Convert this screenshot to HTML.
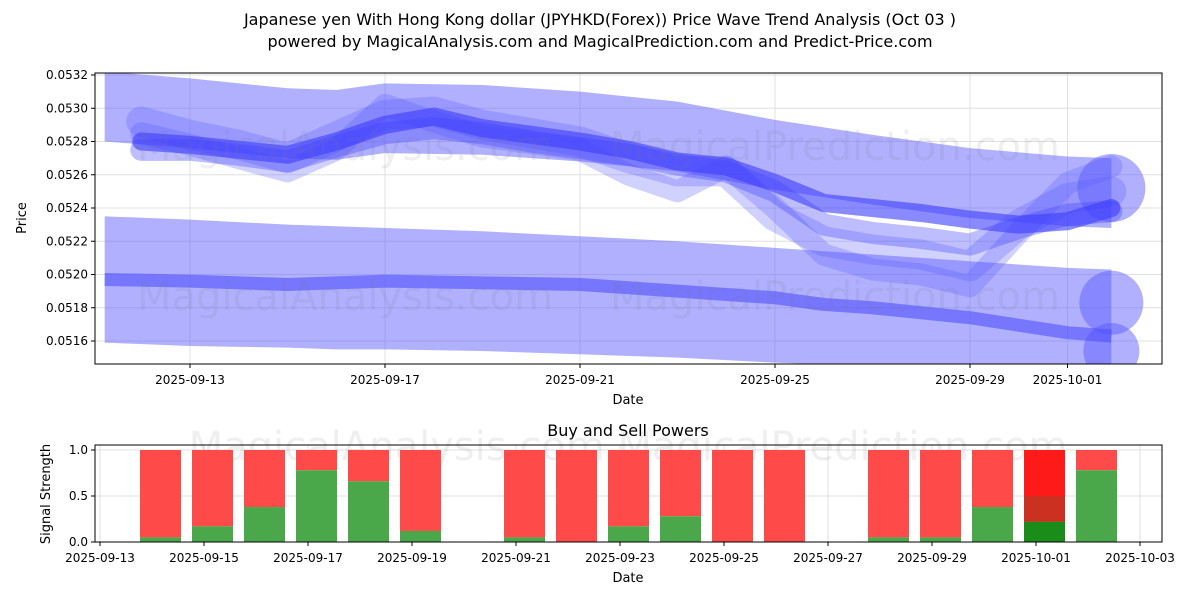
<!DOCTYPE html>
<html><head><meta charset="utf-8"><style>
body{margin:0;background:#fff;font-family:"Liberation Sans","DejaVu Sans",sans-serif}
svg text{font-family:"DejaVu Sans","Liberation Sans",sans-serif;fill:#000}
</style></head><body>
<svg id="c" width="1200" height="600" xmlns="http://www.w3.org/2000/svg">
<text x="600" y="25" font-size="16" text-anchor="middle">Japanese yen With Hong Kong dollar (JPYHKD(Forex)) Price Wave Trend Analysis (Oct 03 )</text>
<text x="600" y="47" font-size="16" text-anchor="middle">powered by MagicalAnalysis.com and MagicalPrediction.com and Predict-Price.com</text>
<g id="topg"></g><g id="botg"></g>
</svg>
<script>
const NS="http://www.w3.org/2000/svg";
// ---- top chart data ----
const priceTicks=[0.0516,0.0518,0.0520,0.0522,0.0524,0.0526,0.0528,0.0530,0.0532];
const dateTicks=["2025-09-13","2025-09-17","2025-09-21","2025-09-25","2025-09-29","2025-10-01"];
const dateTickDays=[0,4,8,12,16,18];
const bandDays=[-1.75,0,2,3,4,6,8,10,12,14,16,18,18.9];
const upperTop=[0.05322,0.05318,0.05312,0.05311,0.05315,0.05314,0.05310,0.05304,0.05293,0.05284,0.05276,0.05271,0.05270];
const upperBot=[0.05280,0.05276,0.05270,0.05269,0.05273,0.05272,0.05268,0.05262,0.05251,0.05242,0.05234,0.05229,0.05228];
const lowerTop=[0.05235,0.05233,0.05230,0.05229,0.05228,0.05226,0.05223,0.05220,0.05216,0.05212,0.05208,0.05204,0.05203];
const lowerBot=[0.05159,0.05157,0.05156,0.05155,0.05155,0.05154,0.05152,0.05150,0.05147,0.05145,0.05143,0.05141,0.05140];
const waveDays=[-1,0,1,2,3,4,5,6,7,8,9,10,11,12,13,14,15,16,17,18,18.9];
const waveA=[0.05280,0.05278,0.05275,0.05272,0.05280,0.05290,0.05295,0.05288,0.05284,0.05280,0.05275,0.05268,0.05265,0.05255,0.05243,0.05240,0.05237,0.05233,0.05230,0.05232,0.05240];
const waveB=[0.05285,0.05278,0.05270,0.05262,0.05275,0.05302,0.05292,0.05283,0.05279,0.05275,0.05260,0.05250,0.05265,0.05240,0.05212,0.05203,0.05200,0.05193,0.05225,0.05255,0.05265];
const waveC=[0.05292,0.05284,0.05278,0.05270,0.05283,0.05296,0.05298,0.05290,0.05285,0.05280,0.05270,0.05262,0.05262,0.05235,0.05220,0.05215,0.05212,0.05205,0.05230,0.05246,0.05250];
const waveD=[0.05275,0.05275,0.05272,0.05268,0.05277,0.05285,0.05288,0.05285,0.05280,0.05276,0.05272,0.05266,0.05262,0.05250,0.05230,0.05225,0.05222,0.05218,0.05228,0.05236,0.05238];
const darkDays=[-1.75,0,2,4,6,8,10,12,13,14,16,18,18.9];
const darkLine=[0.05197,0.05196,0.05194,0.05196,0.05195,0.05194,0.05190,0.05186,0.05182,0.05180,0.05174,0.05165,0.05163];
// ---- bottom chart data ----
const barDays=[1,2,3,4,5,6,8,9,10,11,12,13,15,16,17,18,19];
const buyVals=[0.05,0.17,0.38,0.78,0.66,0.12,0.05,0,0.17,0.28,0,0,0.05,0.05,0.38,0.22,0.78];
const sigTicks=[0,0.5,1.0];
const botDateTicks=["2025-09-13","2025-09-15","2025-09-17","2025-09-19","2025-09-21","2025-09-23","2025-09-25","2025-09-27","2025-09-29","2025-10-01","2025-10-03"];

const X0=95,X1=1162,TY0=73,TY1=364;
const xT=d=>190+d*48.75;
const yT=v=>341-(v-0.0516)*166250;
const xB=d=>100+d*52;
const yB=v=>542-v*92;
function el(t,a,p){const e=document.createElementNS(NS,t);for(const k in a)e.setAttribute(k,a[k]);p.appendChild(e);return e;}
const topG=document.getElementById('topg'),botG=document.getElementById('botg');

el('rect',{x:X0,y:TY0,width:X1-X0,height:TY1-TY0,fill:'#fff'},topG);
priceTicks.forEach(v=>{
 const g=el('line',{x1:X0,x2:X1,y1:yT(v),y2:yT(v),stroke:'#e0e0e0'},topG);
 
 
 el('line',{x1:X0-4,x2:X0,y1:yT(v),y2:yT(v),stroke:'#000'},topG);
 const t=el('text',{x:X0-7,y:yT(v)+4,'font-size':12,'text-anchor':'end'},topG);t.textContent=v.toFixed(4);
 
 
});
dateTickDays.forEach((d,i)=>{
 el('line',{x1:xT(d),x2:xT(d),y1:TY0,y2:TY1,stroke:'#e0e0e0'},topG);
 el('line',{x1:xT(d),x2:xT(d),y1:TY1,y2:TY1+4,stroke:'#000'},topG);
 const t=el('text',{x:xT(d),y:TY1+20,'font-size':12,'text-anchor':'middle'},topG);t.textContent=dateTicks[i];
 
 
});
const clip=el('clipPath',{id:'cp'},topG);el('rect',{x:X0,y:TY0,width:X1-X0,height:TY1-TY0},clip);
const pg=el('g',{'clip-path':'url(#cp)'},topG);
function band(tp,bt,name){
 let pts=bandDays.map((d,i)=>xT(d)+','+yT(tp[i])).join(' ')+' '+bandDays.map((d,i)=>xT(d)+','+yT(bt[i])).reverse().join(' ');
 const p=el('polygon',{points:pts,fill:'rgba(90,90,255,0.48)'},pg);
 
 
}
band(upperTop,upperBot,'upper-wave-band');
el('circle',{cx:xT(18.9),cy:yT(0.05252),r:34,fill:'rgba(90,90,255,0.48)'},pg);
band(lowerTop,lowerBot,'lower-wave-band');
el('circle',{cx:xT(18.9),cy:yT(0.05183),r:32,fill:'rgba(90,90,255,0.48)'},pg);
el('circle',{cx:xT(18.9),cy:yT(0.05154),r:28,fill:'rgba(90,90,255,0.48)'},pg);
function line(days,vals,w,col,name,cap){
 const p=el('polyline',{points:days.map((d,i)=>xT(d)+','+yT(vals[i])).join(' '),fill:'none',stroke:col,'stroke-width':w,'stroke-linejoin':'round','stroke-linecap':cap||'round'},pg);
 
 
}
line(waveDays,waveC,30,'rgba(90,90,255,0.28)','wave-line-c');
line(waveDays,waveB,22,'rgba(90,90,255,0.28)','wave-line-b');
line(waveDays,waveD,22,'rgba(70,70,255,0.35)','wave-line-d');
line(waveDays,waveA,18,'rgba(60,60,255,0.6)','wave-line-main');
line(darkDays,darkLine,13,'rgba(80,80,255,0.6)','lower-trend-line','butt');
[['MagicalAnalysis.com',345,160],['MagicalPrediction.com',835,160],['MagicalAnalysis.com',345,310],['MagicalPrediction.com',835,310]].forEach(w=>{
 const t=el('text',{x:w[1],y:w[2],'font-size':40,'text-anchor':'middle',style:'fill:rgba(120,120,120,0.12)'},pg);t.textContent=w[0];
});
el('rect',{x:X0,y:TY0,width:X1-X0,height:TY1-TY0,fill:'none',stroke:'#000'},topG);
let t=el('text',{x:628,y:404,'font-size':13,'text-anchor':'middle'},topG);t.textContent='Date';


t=el('text',{x:26,y:218,'font-size':13,'text-anchor':'middle',transform:'rotate(-90 26 218)'},topG);t.textContent='Price';



const BY0=445,BY1=542;
t=el('text',{x:628,y:436,'font-size':16,'text-anchor':'middle'},botG);t.textContent='Buy and Sell Powers';


sigTicks.forEach(v=>{
 el('line',{x1:X0,x2:X1,y1:yB(v),y2:yB(v),stroke:'#e0e0e0'},botG);
 el('line',{x1:X0-4,x2:X0,y1:yB(v),y2:yB(v),stroke:'#000'},botG);
 const s=el('text',{x:X0-7,y:yB(v)+4,'font-size':12,'text-anchor':'end'},botG);s.textContent=v.toFixed(1);
 
 
});
botDateTicks.forEach((lab,i)=>{
 const d=i*2;
 el('line',{x1:xB(d),x2:xB(d),y1:BY0,y2:BY1,stroke:'#e0e0e0'},botG);
 el('line',{x1:xB(d),x2:xB(d),y1:BY1,y2:BY1+4,stroke:'#000'},botG);
 const s=el('text',{x:xB(d),y:BY1+20,'font-size':12,'text-anchor':'middle'},botG);s.textContent=lab;
 
 
});
const wt=el('text',{x:628,y:460,'font-size':40,'text-anchor':'middle',style:'fill:rgba(120,120,120,0.12)'},botG);wt.textContent='MagicalAnalysis.com          MagicalPrediction.com';
barDays.forEach((d,i)=>{
 const b=buyVals[i],x=xB(d)-21+9,w=41;
 const special=(i===barDays.length-2);
 const r=el('rect',{x:x,y:yB(1),width:w,height:yB(b)-yB(1),fill:special?'#ff1a1a':'#ff4a4a'},botG);
 
 
 if(special){const r2=el('rect',{x:x,y:yB(0.5),width:w,height:yB(b)-yB(0.5),fill:'#cc3020'},botG);
  
  }
 const g=el('rect',{x:x,y:yB(b),width:w,height:yB(0)-yB(b),fill:special?'#1a8c1a':'#4aa84a'},botG);
 
 
});
el('rect',{x:X0,y:BY0,width:X1-X0,height:BY1-BY0,fill:'none',stroke:'#000'},botG);
t=el('text',{x:628,y:582,'font-size':13,'text-anchor':'middle'},botG);t.textContent='Date';


t=el('text',{x:50,y:494,'font-size':13,'text-anchor':'middle',transform:'rotate(-90 50 494)'},botG);t.textContent='Signal Strength';


</script>
</body></html>
